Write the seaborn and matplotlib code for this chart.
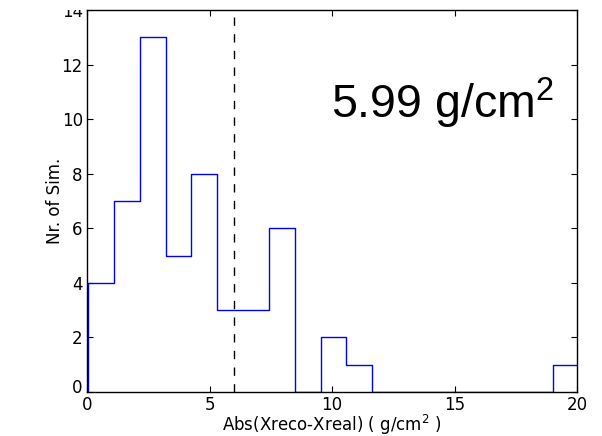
import numpy as np
import pandas as pd
import matplotlib
matplotlib.use("Agg")
import matplotlib.pyplot as plt
import matplotlib.patches as mpatches
import matplotlib.transforms as mtransforms
import seaborn as sns

# Data
bin_start = 0.04
bin_width = 1.055
counts = [4, 7, 13, 5, 8, 3, 3, 6, 0, 2, 1, 0, 0, 0, 0, 0, 0, 0, 1]
mean_value = 5.99
annotation = "5.99 g/cm$^2$"
x_label = "Abs(Xreco-Xreal) ( g/cm$^2$ )"
y_label = "Nr. of Sim."
x_ticks = [0, 5, 10, 15, 20]
y_ticks = [0, 2, 4, 6, 8, 10, 12, 14]

sns.set_style("ticks")
plt.rcParams.update({
    "font.family": ["DejaVu Sans"],
    "font.size": 12,
    "text.color": "black",
    "axes.labelcolor": "black",
    "xtick.color": "black",
    "ytick.color": "black",
    "xtick.direction": "in",
    "ytick.direction": "in",
    "xtick.top": True,
    "ytick.right": True,
    "xtick.major.size": 4,
    "ytick.major.size": 4,
    "xtick.major.pad": 3,
    "ytick.major.pad": 3,
    "axes.edgecolor": "black",
    "axes.linewidth": 1.0,
    "mathtext.fontset": "dejavusans",
    "mathtext.rm": "Liberation Sans",
    "mathtext.it": "Liberation Sans:italic",
    "mathtext.bf": "Liberation Sans:bold",
})

n = len(counts)
edges = (bin_start + bin_width * np.arange(-1, n + 2)).tolist()   # one empty bin padded on each side
centers = bin_start + bin_width * (np.arange(n) + 0.5)
df = pd.DataFrame({"value": centers, "count": counts})

fig = plt.figure(figsize=(6.02, 4.36), dpi=100)
ax = fig.add_axes([87 / 602, 1 - 392 / 436, 490 / 602, 382 / 436])

sns.histplot(data=df, x="value", weights="count", bins=edges, element="step", fill=False,
             color=(0, 0, 1), linewidth=1.0, ax=ax)
ax.axvline(mean_value, color="black", linestyle=(0, (6, 6)), linewidth=1.0)

ax.set_xlim(0, 20)
ax.set_ylim(0, 14)
ax.set_xticks(x_ticks)
ax.set_yticks(y_ticks)
ax.tick_params(labelsize=12, colors="black", width=0.8)
ax.set_xlabel(x_label, fontsize=12, labelpad=-1)
ax.set_ylabel(y_label, fontsize=12, labelpad=-1.5)
for s in ax.spines.values():
    s.set_visible(True)
    s.set_color("black")

# lowest y tick label sits slightly above its tick, as in the reference
lbl0 = ax.get_yticklabels()[0]
lbl0.set_transform(lbl0.get_transform() + mtransforms.ScaledTranslation(0, 4 / 72, fig.dpi_scale_trans))

ax.text(0.726, 0.717, annotation, transform=ax.transAxes, ha="center", va="baseline",
        fontsize=33.5, fontfamily="Liberation Sans", math_fontfamily="custom")

# the reference image is cropped just above the plot frame on the left
fig.patches.append(mpatches.Rectangle((0, 1 - 10 / 436), 86 / 602, 10 / 436,
                                      transform=fig.transFigure, facecolor="white",
                                      edgecolor="none", zorder=10))

fig.savefig("out.png", dpi=100, facecolor="white")
